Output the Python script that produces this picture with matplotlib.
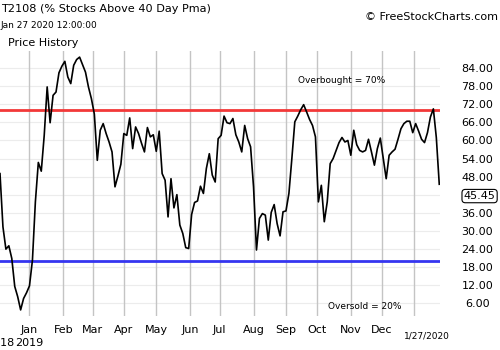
import numpy as np
import pandas as pd
import matplotlib
matplotlib.use("Agg")
import matplotlib.pyplot as plt
import matplotlib.transforms as mtransforms

# ---- data (T2108 readings, every 2nd business day, Dec 4 2018 .. Jan 2020) ----
start_date = "2018-12-04"
values = [
    49.0, 31.3, 23.9, 25.0, 20.8, 11.5, 8.1, 3.7, 7.5, 9.4,
    11.7, 20.2, 39.6, 52.7, 49.8, 61.7, 77.8, 65.9, 75.0, 76.1,
    82.5, 84.7, 86.3, 81.1, 78.9, 85.0, 86.9, 87.7, 85.2, 82.7,
    77.8, 73.9, 68.8, 53.4, 63.4, 65.6, 62.3, 59.5, 56.2, 44.6,
    48.2, 52.1, 62.3, 61.7, 67.5, 57.3, 64.5, 62.3, 59.1, 56.2,
    64.3, 61.2, 61.9, 56.4, 63.1, 49.0, 46.8, 34.6, 47.3, 37.6,
    42.0, 31.9, 29.1, 24.4, 24.1, 35.4, 39.4, 39.9, 44.8, 42.4,
    50.7, 55.6, 48.5, 46.2, 60.6, 61.7, 68.1, 65.9, 65.6, 67.3,
    61.9, 59.5, 56.2, 65.0, 60.6, 57.9, 44.6, 23.6, 34.1, 35.7,
    35.2, 26.9, 36.1, 38.7, 32.4, 28.3, 36.3, 36.6, 42.4, 54.0,
    66.2, 68.1, 70.2, 71.9, 69.5, 67.0, 65.0, 61.2, 39.6, 45.1,
    33.0, 39.6, 52.3, 54.0, 56.7, 59.3, 61.0, 59.5, 60.0, 55.1,
    63.4, 58.6, 56.7, 56.2, 56.7, 60.4, 56.2, 51.8, 57.3, 60.8,
    54.0, 47.3, 55.1, 56.2, 57.1, 60.4, 63.9, 65.6, 66.4, 66.4,
    62.6, 65.6, 63.1, 60.4, 59.3, 62.6, 67.8, 70.5, 61.0, 45.45,
]
dates = pd.bdate_range(start=start_date, periods=len(values), freq="2B")
month_labels = ["Jan", "Feb", "Mar", "Apr", "May", "Jun", "Jul", "Aug",
                "Sep", "Oct", "Nov", "Dec"]
month_starts = pd.date_range("2019-01-01", "2019-12-01", freq="MS")
year_marks = [("2018", start_date), ("2019", "2019-01-01")]
ticks_y = [6, 12, 18, 24, 30, 36, 42, 48, 54, 60, 66, 72, 78, 84]
overbought = 70
oversold = 20
last_label = "1/27/2020"

# ---- helpers: trading-day axis ----
d0 = np.datetime64(start_date)
def bidx(d):
    d = np.datetime64(pd.Timestamp(d).date())
    first = np.busday_offset(d, 0, roll="forward")
    return np.busday_count(d0, first)

x = np.array([bidx(d) for d in dates])
month_pos = [bidx(m) for m in month_starts] + [bidx("2020-01-01")]

plt.rcParams["font.family"] = ["DejaVu Sans"]
fig = plt.figure(figsize=(5, 3.5), dpi=100)
fig.patch.set_facecolor("white")
ax = fig.add_axes([0.0, 0.097, 0.88, 0.757])

ax.set_xlim(0, 298.5)
ax.set_ylim(1.66, 89.7)

# grid
for yv in ticks_y:
    ax.axhline(yv, color="#ececec", lw=0.8, zorder=0)
for mp in month_pos:
    ax.axvline(mp, color="#c4c4c4", lw=1.0, zorder=0)

ax.axhline(overbought, color="#f23838", lw=2.0, zorder=2)
ax.axhline(oversold, color="#3535f0", lw=2.0, zorder=2)
ax.plot(x, values, color="black", lw=1.2, zorder=3)

for s in ax.spines.values():
    s.set_visible(False)

ax.set_xticks(month_pos[:-1])
ax.set_xticklabels(month_labels)
ax.tick_params(axis="x", length=0, pad=6.5, labelsize=8)
ax.set_yticks(ticks_y)
ax.set_yticklabels([f"{t:.2f}" for t in ticks_y])
ax.yaxis.tick_right()
ax.tick_params(axis="y", length=0, pad=27, labelsize=8)
for lab in ax.get_yticklabels():
    lab.set_horizontalalignment("center")

trans = mtransforms.blended_transform_factory(ax.transData, ax.transAxes)
for yr, d in year_marks:
    ax.annotate(yr, xy=(bidx(d), 0), xycoords=trans, xytext=(0, -19.5),
                textcoords="offset points", ha="center", va="center",
                fontsize=8, annotation_clip=False)
ax.annotate(last_label, xy=(x[-1], 0), xycoords=trans, xytext=(-9, -14.5),
            textcoords="offset points", ha="center", va="center",
            fontsize=6.5, annotation_clip=False)

# last value box
ax.annotate(f"{values[-1]:.2f}", xy=(1.0, values[-1]),
            xycoords=("axes fraction", "data"), xytext=(28.5, -8.5),
            textcoords="offset points", ha="center", va="center", fontsize=8,
            annotation_clip=False,
            bbox=dict(boxstyle="round,pad=0.15,rounding_size=0.3",
                      fc="white", ec="black", lw=0.8))

tr2 = mtransforms.blended_transform_factory(ax.transAxes, ax.transData)
ax.text(0.777, 80, f"Overbought = {overbought}%", transform=tr2,
        ha="center", va="center", fontsize=6.5)
ax.text(0.83, 4.7, f"Oversold = {oversold}%", transform=tr2,
        ha="center", va="center", fontsize=6.5)

fig.text(0.002, 1 - 9.5 / 350, "T2108 (% Stocks Above 40 Day Pma)",
         ha="left", va="center", fontsize=8.1)
fig.text(0.0, 1 - 25 / 350, "Jan 27 2020 12:00:00", ha="left", va="center",
         fontsize=6.5)
fig.text(8 / 500, 1 - 43 / 350, "Price History", ha="left", va="center",
         fontsize=8)
fig.text(498 / 500, 1 - 17 / 350, "\u00a9 FreeStockCharts.com", ha="right",
         va="center", fontsize=8)

fig.savefig("out.png", dpi=100)
